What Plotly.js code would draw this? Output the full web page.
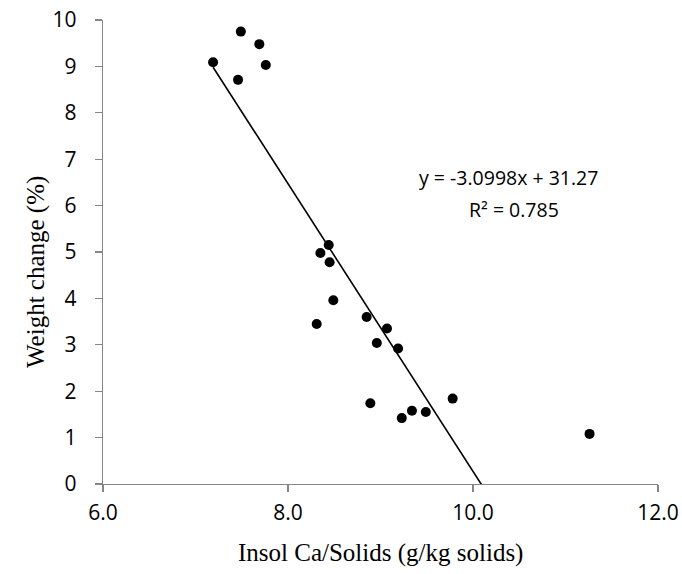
<!DOCTYPE html>
<html>
<head>
<meta charset="utf-8">
<script src="https://cdn.plot.ly/plotly-3.0.1.min.js"></script>
<style>html,body{margin:0;padding:0;background:#fff;}#chart{width:682px;height:574px;}</style>
</head>
<body>
<div id="chart"></div>
<script>
// Data
const insolCa = [7.19, 7.49, 7.69, 7.76, 7.46, 8.44, 8.35, 8.45, 8.49, 8.31, 8.85, 9.07, 8.96, 9.19, 8.89, 9.34, 9.23, 9.49, 9.78, 11.26];
const weightChange = [9.09, 9.75, 9.48, 9.03, 8.71, 5.15, 4.98, 4.78, 3.96, 3.45, 3.60, 3.35, 3.04, 2.92, 1.74, 1.58, 1.42, 1.55, 1.84, 1.08];
// Linear trendline as printed on the chart
const trendSlope = -3.0998;
const trendIntercept = 31.27;
const trendR2 = 0.785;
const xTicks = [6, 8, 10, 12];
const yTicks = [0, 1, 2, 3, 4, 5, 6, 7, 8, 9, 10];

const xMin = Math.min(...insolCa);
const xMax = Math.max(...insolCa);
const trendX = [xMin, xMax];
const trendY = trendX.map(v => trendSlope * v + trendIntercept);

const axisColor = '#868686';
const tickFont = {family: 'Open Sans, sans-serif', size: 21, color: '#000'};
const eqFont = {family: 'Open Sans, sans-serif', size: 19.5, color: '#000'};
const xTitleFont = {family: 'Liberation Serif, serif', size: 25, color: '#000'};
const yTitleFont = {family: 'Liberation Serif, serif', size: 25, color: '#000'};

const traces = [
  {x: insolCa, y: weightChange, type: 'scatter', mode: 'markers',
   marker: {color: '#000', size: 10, symbol: 'circle'}, showlegend: false, hoverinfo: 'x+y'},
  {x: trendX, y: trendY, type: 'scatter', mode: 'lines',
   line: {color: '#000', width: 1.6}, showlegend: false, hoverinfo: 'skip'}
];

const L = 103, R = 24, T = 20, B = 90, W = 682, H = 574;
const plotW = W - L - R, plotH = H - T - B;
const px2paperX = px => (px - L) / plotW;
const px2paperY = py => 1 - (py - T) / plotH;

const layout = {
  width: W, height: H,
  margin: {l: L, r: R, t: T, b: B, pad: 0},
  paper_bgcolor: '#fff', plot_bgcolor: '#fff',
  showlegend: false,
  xaxis: {
    range: [6, 12], tickvals: xTicks, ticktext: xTicks.map(v => v.toFixed(1)),
    showgrid: false, zeroline: false, showline: true, linecolor: axisColor, linewidth: 1.3,
    ticks: 'outside', ticklen: 7, tickwidth: 1.3, tickcolor: axisColor,
    tickfont: tickFont, ticklabelstandoff: 2
  },
  yaxis: {
    range: [0, 10], tickvals: yTicks, ticktext: yTicks.map(String),
    showgrid: false, zeroline: false, showline: true, linecolor: axisColor, linewidth: 1.3,
    ticks: 'outside', ticklen: 7, tickwidth: 1.3, tickcolor: axisColor,
    tickfont: tickFont, ticklabelstandoff: 14
  },
  annotations: [
    {text: 'y = -3.0998x + 31.27', x: 10.38, y: 6.6, xref: 'x', yref: 'y',
     showarrow: false, font: eqFont, xanchor: 'center', yanchor: 'middle'},
    {text: 'R² = ' + trendR2, x: 10.44, y: 5.92, xref: 'x', yref: 'y',
     showarrow: false, font: eqFont, xanchor: 'center', yanchor: 'middle'},
    {text: 'Weight change (%)', textangle: -90, x: px2paperX(36), y: px2paperY(272),
     xref: 'paper', yref: 'paper',
     showarrow: false, font: yTitleFont, xanchor: 'center', yanchor: 'middle'},
    {text: 'Insol Ca/Solids (g/kg solids)', x: px2paperX(380), y: px2paperY(553),
     xref: 'paper', yref: 'paper',
     showarrow: false, font: xTitleFont, xanchor: 'center', yanchor: 'middle'}
  ]
};

Plotly.newPlot('chart', traces, layout, {displayModeBar: false, staticPlot: true});
</script>
</body>
</html>
